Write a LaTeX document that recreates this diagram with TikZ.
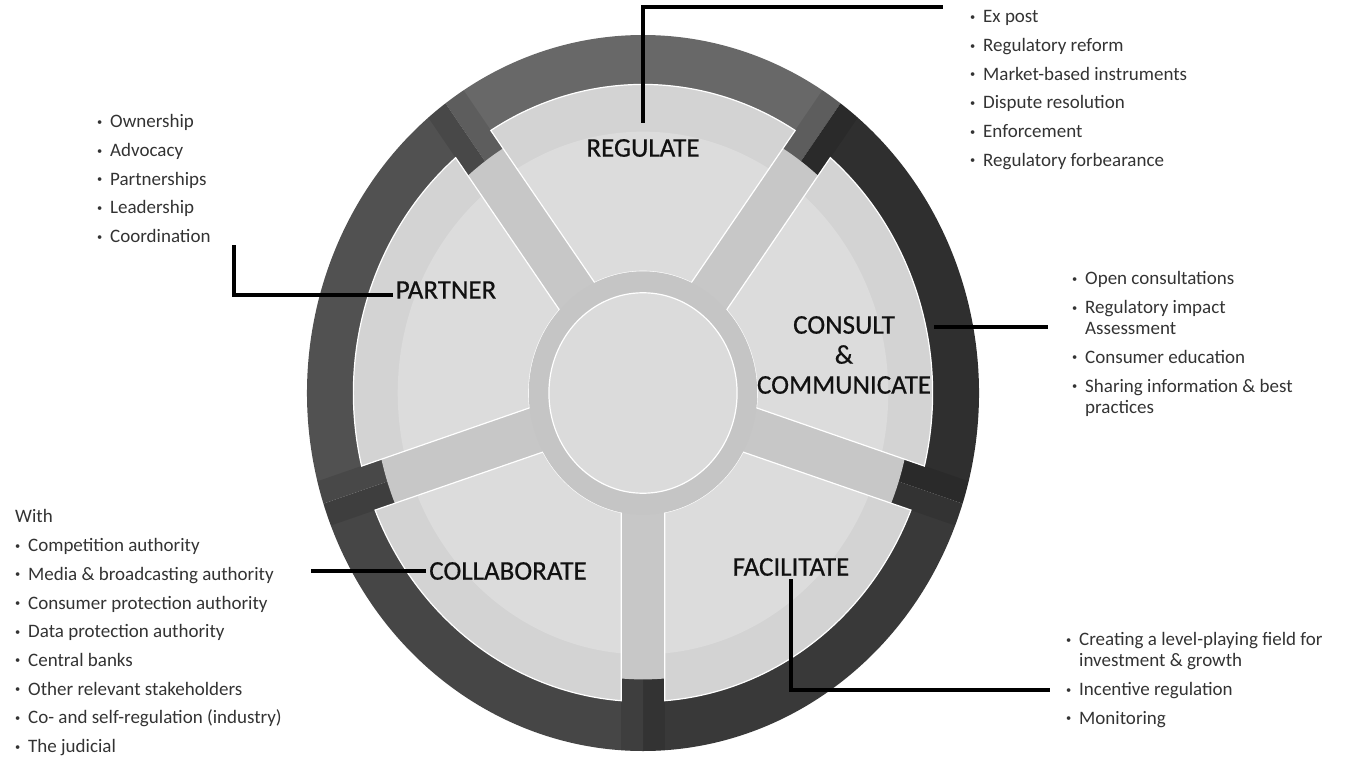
\documentclass[tikz,border=0pt]{standalone}
\usepackage{fontspec}
\setmainfont{Carlito}
\newfontfamily\lblfont{Carlito}[FakeBold=0.6]

\definecolor{ringtop}{HTML}{686868}
\definecolor{ringright}{HTML}{2F2F2F}
\definecolor{ringlowr}{HTML}{393939}
\definecolor{ringlowl}{HTML}{464646}
\definecolor{ringleft}{HTML}{515151}
\definecolor{spokegray}{HTML}{C7C7C7}
\definecolor{petalgray}{HTML}{D3D3D3}
\definecolor{petallight}{HTML}{DCDCDC}
\definecolor{hubring}{HTML}{C5C5C5}
\definecolor{hubgray}{HTML}{DBDBDB}
\definecolor{txtgray}{HTML}{333333}
\definecolor{lblgray}{HTML}{111111}

\newcommand{\itm}[1]{\makebox[13pt][l]{\raisebox{2.5pt}{\scalebox{0.55}{\textbullet}}}#1}
\newcommand{\cnt}[1]{\hspace*{13pt}#1}

\tikzset{
   lbl/.style={font=\lblfont\fontsize{27}{30}\selectfont, text=lblgray, align=center, inner sep=3pt},
   blist/.style={font=\fontsize{19}{21}\selectfont, text=txtgray, align=left, anchor=north west, inner sep=0pt},
   link/.style={line width=3.2pt, black}
}

\begin{document}
\begin{tikzpicture}[x=1pt, y=-1pt]
   \useasboundingbox (0,0) rectangle (1358,765);

   % Wheel
   \begin{scope}[shift={(643,393)}, xscale=336, yscale=-358]
      % outer ring, one shade per sector
      \foreach \a/\c in {90/ringtop, 18/ringright, -54/ringlowr, -126/ringlowl, 162/ringleft}
         \fill[\c] (0,0) -- (\a-36:1) arc[start angle=\a-36, end angle=\a+36, radius=1] -- cycle;
      % spokes running through the ring
      \begin{scope}
         \clip (0,0) circle[radius=1];
         \foreach \s in {54, 126, 198, 270, 342}
            \fill[black, opacity=0.1, rotate=-\s] (0.7,-0.065) rectangle (1.05,0.065);
      \end{scope}
      \fill[spokegray] (0,0) circle[radius=0.8];
      % petals
      \foreach \a in {90, 18, -54, -126, 162} {
         \begin{scope}
            \clip (\a-31.7:0.862) arc[start angle=\a-31.7, end angle=\a+31.7, radius=0.862]
                  -- (\a+25:0.34) arc[start angle=\a+25, end angle=\a-25, radius=0.34] -- cycle;
            \fill[petalgray] (0,0) circle[radius=1];
            \fill[petallight] (0,0) circle[radius=0.73];
         \end{scope}
         \draw[white, line width=1.2pt] (\a-31.7:0.862) arc[start angle=\a-31.7, end angle=\a+31.7, radius=0.862]
               -- (\a+25:0.34) arc[start angle=\a+25, end angle=\a-25, radius=0.34] -- cycle;
      }
      % hub
      \fill[hubring] (0,0) circle[radius=0.34];
      \filldraw[fill=hubgray, draw=white, line width=1.2pt] (0,0) circle[radius=0.28];
   \end{scope}

   % Nodes
   \node[lbl] (reg) at (643,148) {REGULATE};
   \node[lbl] (par) at (446,290) {PARTNER};
   \node[lbl] (con) at (844,355) {CONSULT\\\&\\COMMUNICATE};
   \node[lbl] (col) at (508,571) {COLLABORATE};
   \node[lbl] (fac) at (791,567) {FACILITATE};

   \node[blist] (reglist) at (970,8) {\strut\itm{Ex post}\\[7.7pt]\itm{Regulatory reform}\\[7.7pt]\itm{Market-based instruments}\\[7.7pt]\itm{Dispute resolution}\\[7.7pt]\itm{Enforcement}\\[7.7pt]\itm{Regulatory forbearance}};
   \node[blist] (parlist) at (97,113) {\strut\itm{Ownership}\\[7.7pt]\itm{Advocacy}\\[7.7pt]\itm{Partnerships}\\[7.7pt]\itm{Leadership}\\[7.7pt]\itm{Coordination}};
   \node[blist] (conlist) at (1072,270) {\strut\itm{Open consultations}\\[7.7pt]\itm{Regulatory impact}\\\cnt{Assessment}\\[7.7pt]\itm{Consumer education}\\[7.7pt]\itm{Sharing information \& best}\\\cnt{practices}};
   \node[blist] (collist) at (15,508) {\strut With\\[7.7pt]\itm{Competition authority}\\[7.7pt]\itm{Media \& broadcasting authority}\\[7.7pt]\itm{Consumer protection authority}\\[7.7pt]\itm{Data protection authority}\\[7.7pt]\itm{Central banks}\\[7.7pt]\itm{Other relevant stakeholders}\\[7.7pt]\itm{Co- and self-regulation (industry)}\\[7.7pt]\itm{The judicial}};
   \node[blist] (faclist) at (1066,631) {\strut\itm{Creating a level-playing field for}\\\cnt{investment \& growth}\\[7.7pt]\itm{Incentive regulation}\\[7.7pt]\itm{Monitoring}};

   \coordinate (regend) at (943,7);
   \coordinate (parend) at (234,245);
   \coordinate (conend) at (1048,327);
   \coordinate (colend) at (311,571);
   \coordinate (facend) at (1050,690);

   % Paths
   \draw[link, shorten <=13pt] (reg.north) |- (regend);
   \draw[link] ([yshift=-5pt]par.west) -| (parend);
   \draw[link] ([yshift=28pt]con.east) -- (conend);
   \draw[link] (col.west) -- (colend);
   \draw[link] (fac.south) |- (facend);
\end{tikzpicture}
\end{document}
